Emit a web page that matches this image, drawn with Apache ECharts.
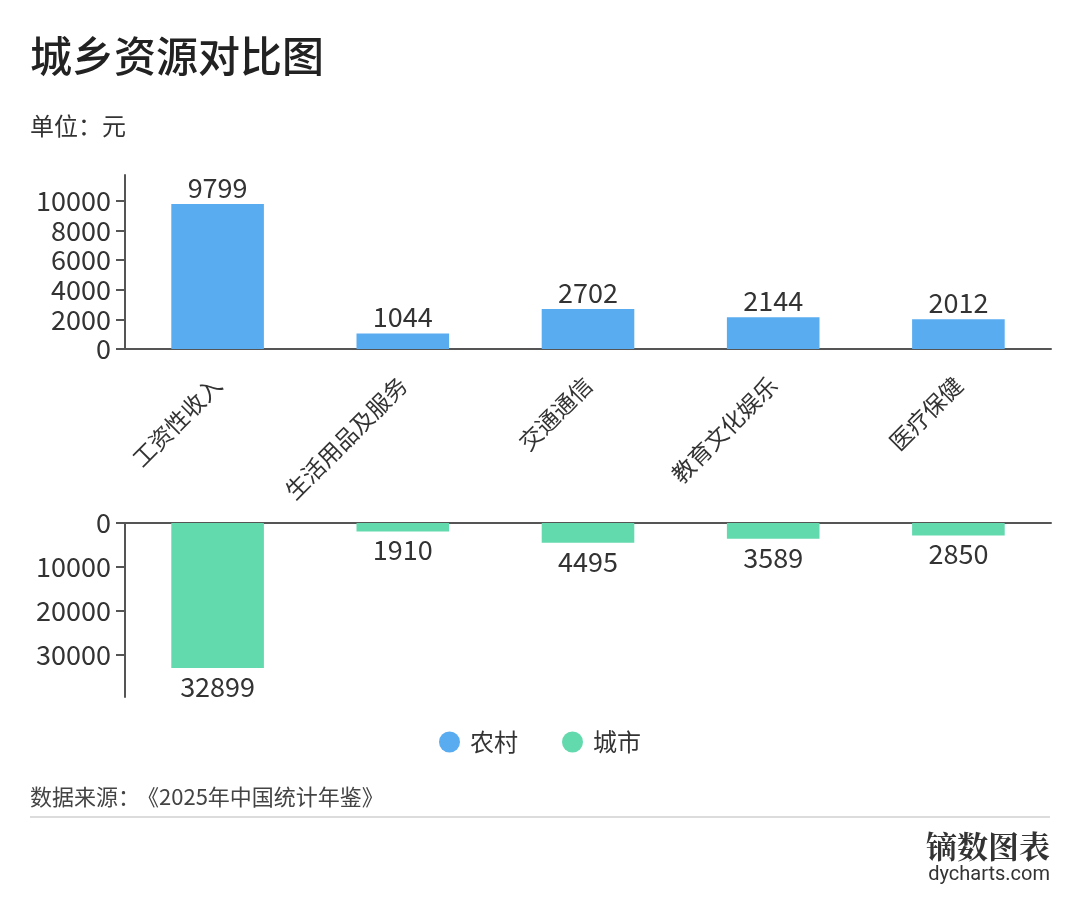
<!DOCTYPE html>
<html>
<head>
<meta charset="utf-8">
<title>城乡资源对比图</title>
<script src="https://cdn.jsdelivr.net/npm/echarts@6/dist/echarts.min.js"></script>
<style>
  html, body { margin: 0; padding: 0; background: #fff; }
  #main { width: 1080px; height: 918px; }
</style>
</head>
<body>
<div id="main"></div>
<script>
// 数据
var categories = ["工资性收入", "生活用品及服务", "交通通信", "教育文化娱乐", "医疗保健"];
var ruralValues = [9799, 1044, 2702, 2144, 2012];
var urbanValues = [32899, 1910, 4495, 3589, 2850];
var ruralTicks = [0, 2000, 4000, 6000, 8000, 10000];
var urbanTicks = [0, 10000, 20000, 30000];

(function () {
  var myChart = echarts.init(document.getElementById("main"));
  var font = "'Noto Sans CJK SC', 'Noto Sans', sans-serif";
  var textColor = "#333";
  var axisColor = "#555";

  // 轴最大值留出 20% 空间
  var ruralMax = Math.max.apply(null, ruralValues) * 1.2;
  var urbanMax = Math.max.apply(null, urbanValues) * 1.2;

  // 刻度标签不要千分位
  function plain(v) { return String(v); }

  var option = {
    animation: false,
    textStyle: { fontFamily: font },
    color: ["#5AACF1", "#63D9AE"],
    grid: [
      { left: 125, right: 29, top: 175, height: 174 },
      { left: 125, right: 29, top: 523, height: 174 }
    ],
    legend: {
      top: 725,
      left: "center",
      icon: "circle",
      itemWidth: 21,
      itemHeight: 21,
      itemGap: 44,
      textStyle: { fontSize: 24, color: textColor, fontFamily: font, padding: [0, 0, 0, 5] },
      data: ["农村", "城市"]
    },
    xAxis: [
      {
        type: "category",
        gridIndex: 0,
        data: categories,
        axisLine: { lineStyle: { color: axisColor, width: 2 } },
        axisTick: { alignWithLabel: true, length: 8, lineStyle: { color: axisColor, width: 2 } },
        axisLabel: { rotate: 45, fontSize: 23, color: textColor, margin: 32, interval: 0 }
      },
      {
        type: "category",
        gridIndex: 1,
        position: "top",
        data: categories,
        axisLine: { lineStyle: { color: axisColor, width: 2 } },
        axisTick: { alignWithLabel: true, length: 8, lineStyle: { color: axisColor, width: 2 } },
        axisLabel: { show: false }
      }
    ],
    yAxis: [
      {
        type: "value",
        gridIndex: 0,
        min: 0,
        max: ruralMax,
        interval: 2000,
        splitLine: { show: false },
        axisLine: { show: true, lineStyle: { color: axisColor, width: 2 } },
        axisTick: { show: true, length: 9, customValues: ruralTicks, lineStyle: { color: axisColor, width: 2 } },
        axisLabel: { fontSize: 27, color: textColor, margin: 14, customValues: ruralTicks, formatter: plain }
      },
      {
        type: "value",
        gridIndex: 1,
        inverse: true,
        min: 0,
        max: urbanMax,
        interval: 10000,
        splitLine: { show: false },
        axisLine: { show: true, lineStyle: { color: axisColor, width: 2 } },
        axisTick: { show: true, length: 9, customValues: urbanTicks, lineStyle: { color: axisColor, width: 2 } },
        axisLabel: { fontSize: 27, color: textColor, margin: 14, customValues: urbanTicks, formatter: plain }
      }
    ],
    series: [
      {
        name: "农村",
        type: "bar",
        xAxisIndex: 0,
        yAxisIndex: 0,
        barWidth: "50%",
        data: ruralValues,
        label: { show: true, position: "top", fontSize: 27, color: textColor, distance: 3 }
      },
      {
        name: "城市",
        type: "bar",
        xAxisIndex: 1,
        yAxisIndex: 1,
        barWidth: "50%",
        data: urbanValues,
        label: { show: true, position: "bottom", fontSize: 27, color: textColor, distance: 5 }
      }
    ],
    graphic: [
      {
        type: "text", left: 30, top: 35,
        style: { text: "城乡资源对比图", fontSize: 42, fontWeight: 500, fill: "#222", fontFamily: font }
      },
      {
        type: "text", left: 30, top: 114,
        style: { text: "单位：元", fontSize: 24, fill: textColor, fontFamily: font }
      },
      {
        type: "text", left: 30, top: 786,
        style: { text: "数据来源：", fontSize: 22, fill: "#444", fontFamily: font }
      },
      {
        type: "text", left: 137, top: 786,
        style: { text: "《2025年中国统计年鉴》", fontSize: 22, fill: "#444", fontFamily: font }
      },
      {
        type: "rect", left: 30, top: 816,
        shape: { width: 1020, height: 2 },
        style: { fill: "#dcdcdc" }
      },
      {
        type: "text", right: 30, top: 831,
        style: { text: "镝数图表", fontSize: 31, fontWeight: "bold", fill: "#333", fontFamily: "'Noto Serif CJK SC', " + font }
      },
      {
        type: "text", right: 30, top: 865,
        style: { text: "dycharts.com", fontSize: 20, fill: "#333", fontFamily: "Roboto, sans-serif" }
      }
    ]
  };

  myChart.setOption(option);
  window.addEventListener("resize", function () {
    myChart.resize();
  });
})();
</script>
</body>
</html>
